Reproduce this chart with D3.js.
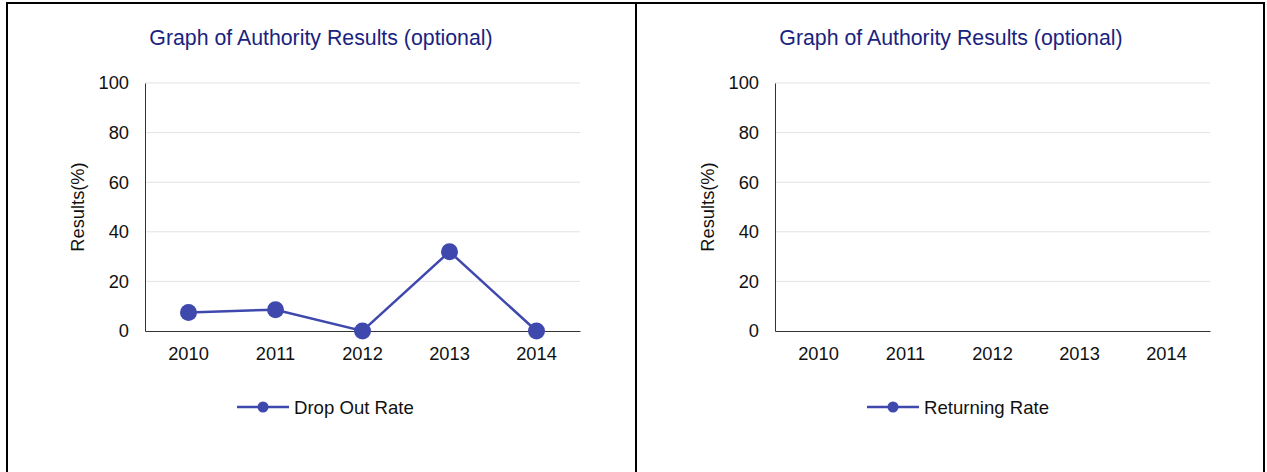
<!DOCTYPE html>
<html>
<head>
<meta charset="utf-8">
<script src="https://cdn.jsdelivr.net/npm/d3@7"></script>
<style>
  html, body { margin: 0; padding: 0; background: #fff; }
  svg { display: block; font-family: Arial, "Liberation Sans", sans-serif; }
</style>
</head>
<body>
<svg id="chart" width="1267" height="472"></svg>
<script>
// ---- data ----
const years = ["2010", "2011", "2012", "2013", "2014"];
const dropOutRate = [7.5, 8.6, 0, 32, 0];
const returningRate = [null, null, null, null, null];
const yTicks = [0, 20, 40, 60, 80, 100];
const chartTitle = "Graph of Authority Results (optional)";
const yAxisLabel = "Results(%)";
const seriesNames = ["Drop Out Rate", "Returning Rate"];

const svg = d3.select("#chart");
const lineColor = "#3f48ad";
const titleColor = "#1a237e";

// panel borders
const borders = svg.append("g").attr("stroke", "#000").attr("stroke-width", 2).attr("fill", "none");
borders.append("path").attr("d", "M7,472 V3 H1264 V472");
borders.append("line").attr("x1", 636).attr("x2", 636).attr("y1", 3).attr("y2", 472);

function drawPanel(offsetX, values, name) {
  const g = svg.append("g").attr("transform", `translate(${offsetX},0)`);
  const left = 145, right = 580, top = 83, bottom = 331;

  const x = d3.scaleBand().domain(years).range([left, right]);
  const y = d3.scaleLinear().domain([0, 100]).range([bottom, top]);

  // title
  g.append("text")
    .attr("x", 321).attr("y", 45)
    .attr("text-anchor", "middle")
    .attr("font-size", 21.3)
    .attr("fill", titleColor)
    .text(chartTitle);

  // gridlines
  g.append("g").selectAll("line").data(yTicks.filter(t => t > 0)).join("line")
    .attr("x1", left).attr("x2", right)
    .attr("y1", d => y(d)).attr("y2", d => y(d))
    .attr("stroke", "#e3e3e3").attr("stroke-width", 1);

  // y axis
  const yAxis = g.append("g").attr("transform", `translate(${left},0)`)
    .call(d3.axisLeft(y).tickValues(yTicks).tickSize(0).tickPadding(16));
  yAxis.select(".domain").attr("stroke", "#333").attr("stroke-width", 1);
  yAxis.selectAll("text").attr("font-size", 18.3).attr("fill", "#111").attr("font-family", "Arial, 'Liberation Sans', sans-serif");

  // x axis
  const xAxis = g.append("g").attr("transform", `translate(0,${bottom})`)
    .call(d3.axisBottom(x).tickSize(0).tickPadding(16));
  xAxis.select(".domain").attr("stroke", "#333").attr("stroke-width", 1.2);
  xAxis.selectAll("text").attr("font-size", 18.3).attr("fill", "#111").attr("font-family", "Arial, 'Liberation Sans', sans-serif");

  // y label
  g.append("text")
    .attr("transform", `translate(84,${(top + bottom) / 2}) rotate(-90)`)
    .attr("text-anchor", "middle")
    .attr("font-size", 18.3)
    .attr("fill", "#111")
    .text(yAxisLabel);

  // series
  const pts = years.map((yr, i) => ({ yr, v: values[i] })).filter(d => d.v != null);
  if (pts.length) {
    const line = d3.line().x(d => x(d.yr) + x.bandwidth() / 2).y(d => y(d.v));
    g.append("path").datum(pts)
      .attr("d", line).attr("fill", "none")
      .attr("stroke", lineColor).attr("stroke-width", 2.5);
    g.append("g").selectAll("circle").data(pts).join("circle")
      .attr("cx", d => x(d.yr) + x.bandwidth() / 2)
      .attr("cy", d => y(d.v))
      .attr("r", 8.5)
      .attr("fill", lineColor);
  }

  // legend
  const lg = g.append("g").attr("transform", "translate(237,407)");
  lg.append("line").attr("x1", 0).attr("x2", 52).attr("y1", 0).attr("y2", 0)
    .attr("stroke", lineColor).attr("stroke-width", 2.5);
  lg.append("circle").attr("cx", 26).attr("cy", 0).attr("r", 5.5).attr("fill", lineColor);
  lg.append("text").attr("x", 57).attr("y", 0).attr("dy", "0.35em")
    .attr("font-size", 18.6).attr("fill", "#111").text(name);
}

drawPanel(0, dropOutRate, seriesNames[0]);
drawPanel(630, returningRate, seriesNames[1]);
</script>
</body>
</html>
